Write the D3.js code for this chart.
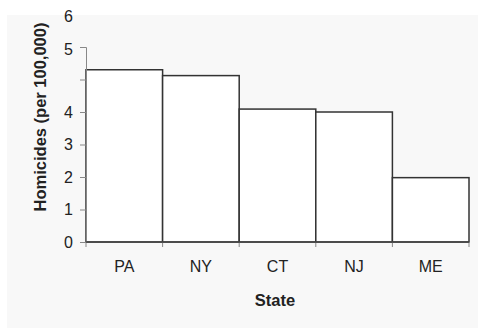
<!DOCTYPE html>
<html><head><meta charset="utf-8">
<script src="https://cdn.jsdelivr.net/npm/d3@7"></script>
<style>body{margin:0;background:#fff}svg{display:block}text{font-family:"Liberation Sans",Arial,sans-serif}</style>
</head><body>
<svg id="c" width="482" height="335"></svg>
<script>
const states = ["PA","NY","CT","NJ","ME"];
const homicides = [5.3, 5.12, 4.09, 4.0, 1.98];
const tickValues = [0,1,2,3,4,5,6,7];
const tickLabels = ["0","1","2","3","4","","5","6"];

const svg = d3.select("#c");
svg.append("rect").attr("x",7).attr("y",15).attr("width",471).attr("height",313).attr("fill","#f8f8f8");

const x = d3.scaleBand().domain(states).range([86,469]).padding(0);
const y = d3.scaleLinear().domain([0,6]).range([242,47]);

svg.selectAll("rect.bar").data(states).enter().append("rect")
  .attr("class","bar")
  .attr("x", d=>x(d)).attr("width", x.bandwidth())
  .attr("y", (d,i)=>y(homicides[i])).attr("height",(d,i)=>y(0)-y(homicides[i]))
  .attr("fill","#fff").attr("stroke","#333").attr("stroke-width",1.5);

// y axis
const ya = svg.append("g").attr("transform","translate(86,0)")
  .call(d3.axisLeft(y).tickValues(tickValues.slice(0,7)).tickSize(6).tickFormat(()=>""));
ya.select(".domain").attr("stroke","#888");
ya.selectAll(".tick line").attr("stroke","#888");
svg.selectAll("text.ylab").data(tickValues).enter().append("text")
  .attr("class","ylab").attr("x",73).attr("y",d=>y(d)+(d>=5?2:0)).attr("dy","0.36em")
  .attr("text-anchor","end").attr("font-size",16).attr("fill","#222")
  .text((d,i)=>tickLabels[i]);

// x axis
const xa = svg.append("g").attr("transform","translate(0,242)")
  .call(d3.axisBottom(x).tickSize(0).tickPadding(19));
xa.select(".domain").remove();
xa.selectAll("text").attr("font-size",16).attr("fill","#222").style("font-family",'"Liberation Sans",Arial,sans-serif');
const edges = states.map(s=>x(s)).concat([x.range()[1]]);
svg.selectAll("line.xt").data(edges).enter().append("line")
  .attr("x1",d=>d).attr("x2",d=>d).attr("y1",242).attr("y2",247).attr("stroke","#888");
svg.append("line").attr("x1",86).attr("x2",469).attr("y1",242).attr("y2",242).attr("stroke","#444").attr("stroke-width",1.5);

svg.append("text").attr("x",275).attr("y",306).attr("text-anchor","middle")
  .attr("font-size",16.5).attr("font-weight","bold").attr("fill","#222").text("State");
svg.append("text").attr("transform","translate(46,117) rotate(-90)").attr("text-anchor","middle")
  .attr("font-size",16.5).attr("font-weight","bold").attr("fill","#222").text("Homicides (per 100,000)");
</script>
</body></html>
